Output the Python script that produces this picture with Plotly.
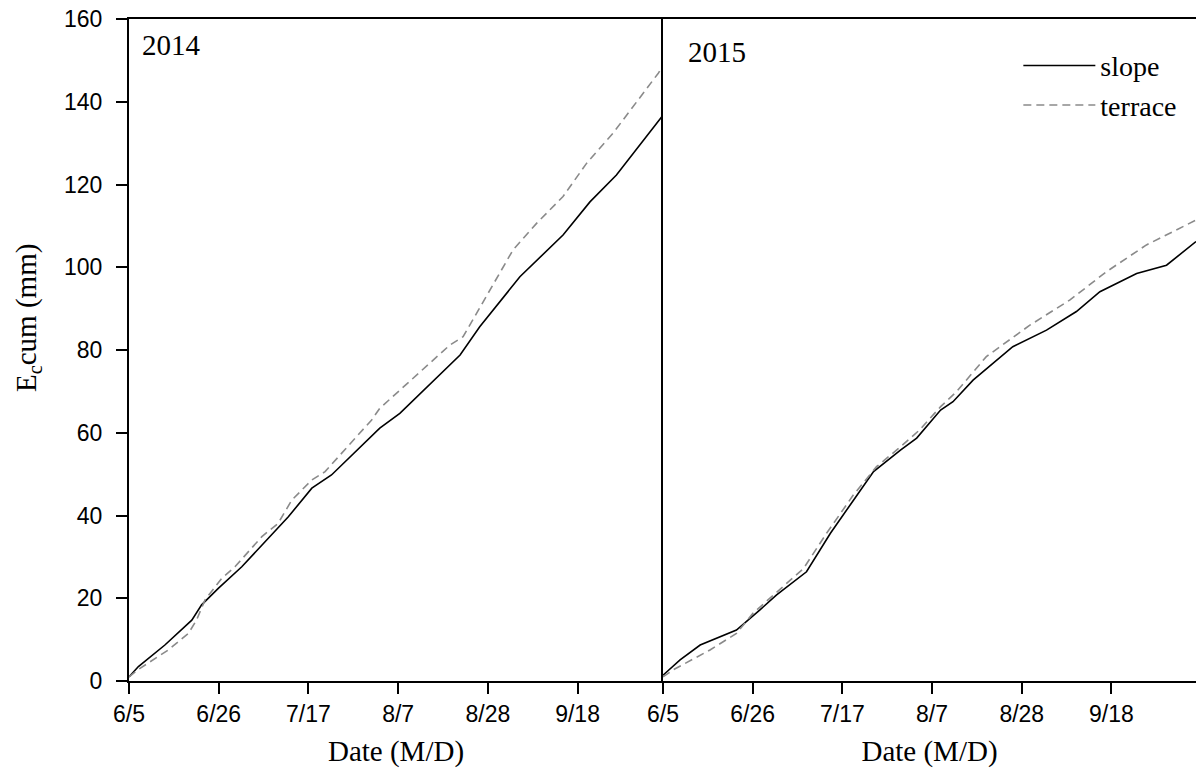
import plotly.graph_objects as go
from plotly.subplots import make_subplots

# Days since 6/5 and cumulative Ec (mm)
days_2014_slope = [0, 2.2, 8.4, 14.7, 17, 20.9, 26.4, 33.4, 37.3, 42.8, 47.4, 58.7, 63.4, 77.5, 82.1, 91.5, 96.2, 101.6, 107.9, 114.1, 124.9]
ec_2014_slope = [1.0, 3.5, 8.7, 14.7, 18.4, 22.4, 27.6, 35.3, 39.7, 46.6, 49.8, 61.1, 64.7, 78.8, 85.6, 97.7, 102.5, 107.8, 115.8, 122.3, 136.6]

days_2014_terrace = [0, 2.2, 9.2, 13.9, 15.8, 17.8, 21.7, 24.8, 31.1, 34.9, 38.1, 42.8, 45.9, 56.8, 58.7, 75.1, 78.2, 85.3, 89.9, 95.4, 101.6, 107.1, 113.3, 123.9, 124.9]
ec_2014_terrace = [1.0, 2.8, 7.5, 11.5, 14.7, 19.6, 24.8, 27.6, 34.9, 38.1, 43.7, 48.6, 50.6, 63.1, 65.9, 81.2, 83.2, 96.1, 104.2, 110.6, 117.1, 125.1, 132.4, 146.9, 148.5]

days_2015_slope = [0, 4, 8.7, 17.2, 22.7, 26.6, 33.6, 39.2, 44.6, 49.3, 55.6, 59.4, 65, 67.9, 72.6, 81.9, 89.8, 96.8, 102.3, 110.9, 117.9, 124.8]
ec_2015_slope = [1.4, 5.1, 8.7, 12.3, 17.2, 20.8, 26.4, 35.7, 43.7, 50.6, 55.8, 58.7, 65.5, 67.5, 72.7, 80.8, 84.8, 89.3, 94.1, 98.5, 100.5, 106.2]

days_2015_terrace = [0, 2.4, 11, 17.2, 21.1, 28.2, 32.9, 38.3, 44.6, 50, 55.6, 60.1, 65, 68.7, 75.7, 85.9, 95.3, 103.8, 113.2, 124.8]
ec_2015_terrace = [1.0, 2.7, 7.5, 11.5, 16.4, 22.8, 27.2, 35.7, 45.0, 51.8, 56.6, 60.7, 66.3, 69.9, 78.4, 86.0, 92.1, 98.9, 105.4, 111.4]

tick_days = [0, 21, 42, 63, 84, 105]
tick_labels = ["6/5", "6/26", "7/17", "8/7", "8/28", "9/18"]
y_ticks = [0, 20, 40, 60, 80, 100, 120, 140, 160]

SERIF = "Liberation Serif, Times New Roman, serif"
SANS = "Liberation Sans, Arial, sans-serif"

fig = make_subplots(rows=1, cols=2, shared_yaxes=True, horizontal_spacing=0)

solid = dict(color="black", width=1.6)
dashed = dict(color="#8a8a8a", width=1.6, dash="8px,5px")

fig.add_trace(go.Scatter(x=days_2014_slope, y=ec_2014_slope, mode="lines", line=solid,
                         name="slope", legendgroup="slope", showlegend=False), 1, 1)
fig.add_trace(go.Scatter(x=days_2014_terrace, y=ec_2014_terrace, mode="lines", line=dashed,
                         name="terrace", legendgroup="terrace", showlegend=False), 1, 1)
fig.add_trace(go.Scatter(x=days_2015_slope, y=ec_2015_slope, mode="lines", line=solid,
                         name="slope", legendgroup="slope", showlegend=True), 1, 2)
fig.add_trace(go.Scatter(x=days_2015_terrace, y=ec_2015_terrace, mode="lines", line=dashed,
                         name="terrace", legendgroup="terrace", showlegend=True), 1, 2)

split = 534 / 1067

xcommon = dict(showgrid=False, zeroline=False, showline=True, linecolor="black", linewidth=2,
               mirror=True, ticks="outside", ticklen=11, tickwidth=2, tickcolor="black",
               tickvals=tick_days, ticktext=tick_labels, automargin=False,
               tickfont=dict(family=SANS, size=23, color="black"),
               title=dict(text="Date (M/D)", font=dict(family=SERIF, size=29, color="black"), standoff=15))

fig.update_xaxes(**xcommon)
fig.update_xaxes(range=[0, 125], domain=[0, split], row=1, col=1)
fig.update_xaxes(range=[0, 124.8], domain=[split, 1], row=1, col=2)

fig.update_yaxes(range=[0, 160], showgrid=False, zeroline=False, showline=True, linecolor="black",
                 linewidth=2, automargin=False)
fig.update_yaxes(tickvals=y_ticks, ticks="outside", ticklen=11, tickwidth=2, tickcolor="black",
                 tickfont=dict(family=SANS, size=23, color="black"), ticklabelstandoff=9,
                 row=1, col=1)
fig.update_yaxes(ticks="", showticklabels=False, row=1, col=2)

# y-axis title (placed as rotated text, as in the reference it sits above the axis centre)
fig.add_annotation(text="E<sub>c</sub>cum (mm)", xref="paper", yref="paper",
                   x=(28 - 129) / 1067, y=(681 - 318) / 662, xanchor="center", yanchor="middle",
                   textangle=-90, showarrow=False, font=dict(family=SERIF, size=29, color="black"))

fig.add_annotation(text="2014", xref="x", yref="paper", x=2.5, y=0.96, xanchor="left", yanchor="middle",
                   showarrow=False, font=dict(family=SERIF, size=29, color="black"))
fig.add_annotation(text="2015", xref="x2", yref="paper", x=5.4, y=0.95, xanchor="left", yanchor="middle",
                   showarrow=False, font=dict(family=SERIF, size=29, color="black"))

fig.update_layout(
    width=1196, height=771,
    margin=dict(l=129, r=0, t=19, b=90),
    plot_bgcolor="white", paper_bgcolor="white",
    legend=dict(x=0.8335, y=0.967, xanchor="left", yanchor="top", bgcolor="rgba(0,0,0,0)",
                font=dict(family=SERIF, size=28, color="black"), itemwidth=72,
                tracegroupgap=0),
)

fig.write_html("out.html", config={"displayModeBar": False},
               post_script="document.body.style.margin='0';document.body.style.overflow='hidden';")
